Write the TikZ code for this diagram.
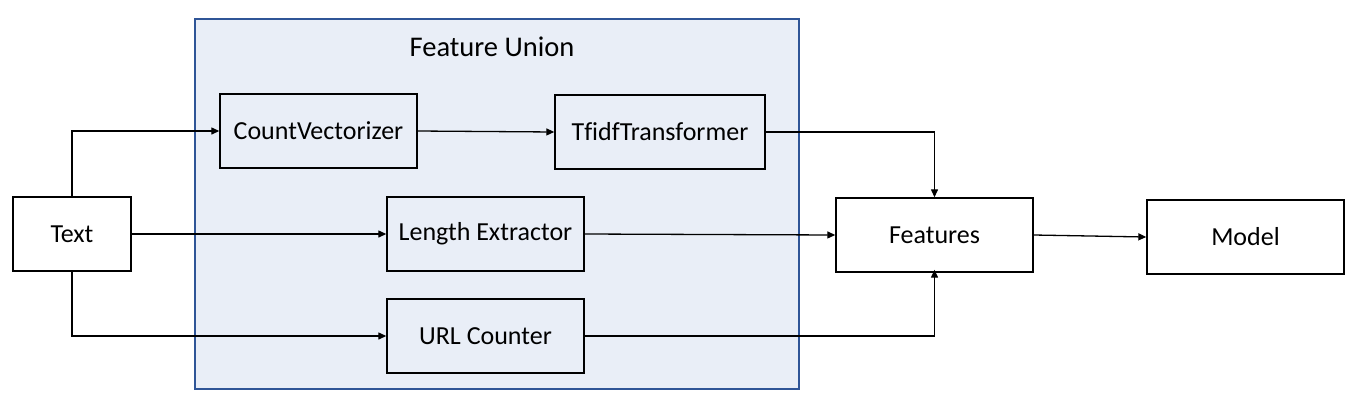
\documentclass[tikz,border=0pt]{standalone}
\usepackage{fontspec}
\setmainfont{Carlito}[Ligatures=NoCommon]
\usetikzlibrary{arrows.meta}
\definecolor{unionfill}{RGB}{233,238,247}
\definecolor{unionline}{RGB}{47,85,151}
\begin{document}
\begin{tikzpicture}[x=1pt,y=-1pt,
  box/.style={draw=black,line width=1.4pt,rectangle,minimum width=197pt,minimum height=74pt,inner sep=0pt,font=\fontsize{26}{30}\selectfont},
  arr/.style={line width=1.3pt,-{Triangle[length=8pt,width=7pt]}}]
\useasboundingbox (0,0) rectangle (1358,405);
\node[draw=unionline,fill=unionfill,line width=1.1pt,minimum width=604pt,minimum height=370pt,inner sep=0pt] (fu) at (497,204) {};
\node[font=\fontsize{28.5}{32}\selectfont] (fut) at (492,47) {Feature Union};
\node[box,minimum width=118pt] (t) at (72,234) {Text};
\node[box] (cv) at (318.5,131) {CountVectorizer};
\node[box,minimum width=210pt] (tf) at (660,132) {TfidfTransformer};
\node[box] (le) at (485.5,234) {Length Extractor};
\node[box] (url) at (485.5,336) {URL Counter};
\node[box] (feat) at (934.5,235) {Features};
\node[box] (mod) at (1245.5,237) {Model};
\draw[arr] (t.north) |- (cv.west);
\draw[arr] (t.east) -- (le.west);
\draw[arr] (t.south) |- (url.west);
\draw[arr] (cv.east) -- (tf.west);
\draw[arr] (tf.east) -| (feat.north);
\draw[arr] (le.east) -- (feat.west);
\draw[arr] (url.east) -| ([yshift=3pt]feat.south);
\draw[arr] (feat.east) -- (mod.west);
\end{tikzpicture}
\end{document}
